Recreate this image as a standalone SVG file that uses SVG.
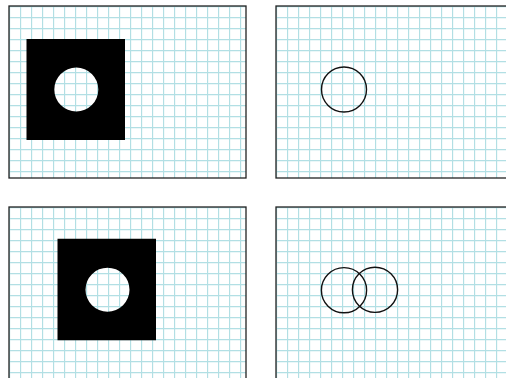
<svg xmlns="http://www.w3.org/2000/svg" width="506" height="378" viewBox="0 0 506 378">
<style>
.panel{fill:url(#grid);stroke:#222;stroke-width:1.3}
.solid{fill:#000;fill-rule:evenodd;stroke:none}
.ring{fill:none;stroke:#111;stroke-width:1.4}
</style>
<defs>
<pattern id="grid" patternUnits="userSpaceOnUse" x="0" y="0" width="11" height="11">
<rect width="11" height="11" fill="#fff"/>
<path d="M0.5 0V11M0 0.5H11" stroke="#b2dfe4" stroke-width="1.3" fill="none"/>
</pattern>
</defs>
<rect width="506" height="378" fill="#fff"/>
<g id="panel-top-left" transform="translate(9,6)">
<rect class="panel" x="0" y="0" width="237" height="172"/>
<path class="solid" d="M17.5 33H116V134H17.5Z M67.3 83.5m-22 0a22 22 0 1 0 44 0a22 22 0 1 0 -44 0Z"/>
</g>
<g id="panel-top-right" transform="translate(276,6)">
<rect class="panel" x="0" y="0" width="240" height="172"/>
<circle class="ring" cx="68" cy="83.5" r="22.5"/>
</g>
<g id="panel-bottom-left" transform="translate(9,207)">
<rect class="panel" x="0" y="0" width="237" height="180"/>
<path class="solid" d="M48.5 31.7H147V133.3H48.5Z M98.5 82.7m-22 0a22 22 0 1 0 44 0a22 22 0 1 0 -44 0Z"/>
</g>
<g id="panel-bottom-right" transform="translate(276,207)">
<rect class="panel" x="0" y="0" width="240" height="180"/>
<circle class="ring" cx="68" cy="83.2" r="22.6"/>
<circle class="ring" cx="99" cy="82.8" r="22.6"/>
</g>
</svg>
